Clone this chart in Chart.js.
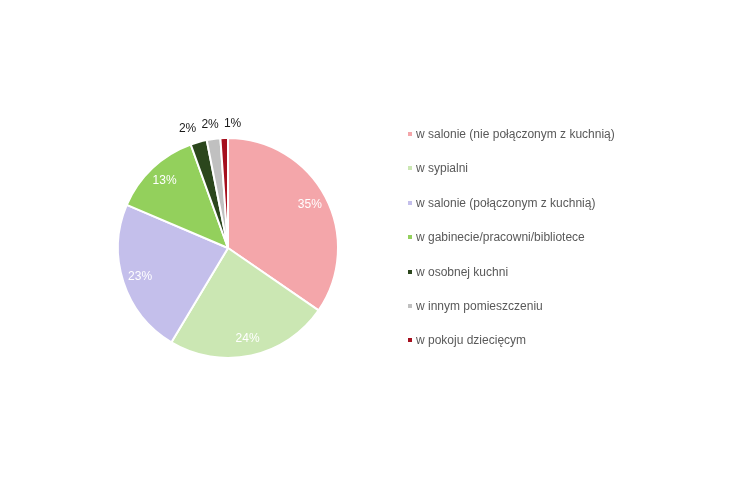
<!DOCTYPE html>
<html>
<head>
<meta charset="utf-8">
<script src="https://cdn.jsdelivr.net/npm/chart.js@4/dist/chart.umd.min.js"></script>
<style>
  html, body { margin: 0; padding: 0; background: #fff; }
  #wrap { position: relative; width: 730px; height: 480px; }
  #legenda { position: absolute; left: 408px; top: 126px; font-family: "Liberation Sans", Arial, sans-serif; font-size: 12px; color: #595959; }
  #legenda div { height: 34.4px; line-height: 16px; white-space: nowrap; }
  #legenda span.box { display: inline-block; width: 4px; height: 4px; margin-right: 4px; vertical-align: 2px; }
</style>
</head>
<body>
<div id="wrap">
  <canvas id="wykres" width="730" height="480"></canvas>
  <div id="legenda"></div>
</div>
<script>
// dane wykresu (udziały w %)
const kategorie = [
  'w salonie (nie połączonym z kuchnią)',
  'w sypialni',
  'w salonie (połączonym z kuchnią)',
  'w gabinecie/pracowni/bibliotece',
  'w osobnej kuchni',
  'w innym pomieszczeniu',
  'w pokoju dziecięcym'
];
const wartosci = [34.6, 24.0, 22.8, 13.1, 2.4, 2.0, 1.1];
const kolory = ['#F4A6AA', '#CBE7B3', '#C4BFEB', '#93D05C', '#2B461C', '#C0C0C0', '#A50F1E'];

// etykiety procentowe: duże wycinki w środku (białe), małe na zewnątrz (czarne)
const etykietyPlugin = {
  id: 'etykiety',
  afterDatasetsDraw(chart) {
    const ctx = chart.ctx;
    const meta = chart.getDatasetMeta(0);
    const suma = wartosci.reduce((a, b) => a + b, 0);
    const zewn = [];
    ctx.save();
    ctx.font = '12px "Liberation Sans", Arial, sans-serif';
    ctx.textAlign = 'center';
    ctx.textBaseline = 'middle';
    meta.data.forEach((arc, i) => {
      const p = arc.getProps(['x', 'y', 'startAngle', 'endAngle', 'outerRadius'], true);
      const mid = (p.startAngle + p.endAngle) / 2;
      const pct = Math.round(wartosci[i] / suma * 100);
      if (pct < 5) {
        const r = p.outerRadius * 1.13;
        zewn.push({ txt: pct + '%', x: p.x + Math.cos(mid) * r, y: p.y + Math.sin(mid) * r });
      } else {
        const r = p.outerRadius * 0.84;
        ctx.fillStyle = '#ffffff';
        ctx.fillText(pct + '%', p.x + Math.cos(mid) * r, p.y + Math.sin(mid) * r);
      }
    });
    // rozsunięcie etykiet zewnętrznych, żeby się nie nakładały
    zewn.sort((a, b) => a.x - b.x);
    const odstep = 22.5;
    for (let k = 0; k < 30; k++) {
      for (let i = 1; i < zewn.length; i++) {
        const brak = odstep - (zewn[i].x - zewn[i - 1].x);
        if (brak > 0) { zewn[i].x += brak / 2; zewn[i - 1].x -= brak / 2; }
      }
    }
    ctx.fillStyle = '#1a1a1a';
    zewn.forEach(e => ctx.fillText(e.txt, e.x, e.y));
    ctx.restore();
  }
};

new Chart(document.getElementById('wykres'), {
  type: 'pie',
  data: {
    labels: kategorie,
    datasets: [{
      data: wartosci,
      backgroundColor: kolory,
      borderColor: '#ffffff',
      borderWidth: 2
    }]
  },
  options: {
    responsive: false,
    animation: false,
    layout: { padding: { left: 117, right: 391, top: 137, bottom: 121 } },
    plugins: {
      legend: { display: false },
      tooltip: { enabled: false }
    }
  },
  plugins: [etykietyPlugin]
});

// legenda obok wykresu
const leg = document.getElementById('legenda');
kategorie.forEach((k, i) => {
  const d = document.createElement('div');
  d.innerHTML = `<span class="box" style="background:${kolory[i]}"></span>${k}`;
  leg.appendChild(d);
});
</script>
</body>
</html>
